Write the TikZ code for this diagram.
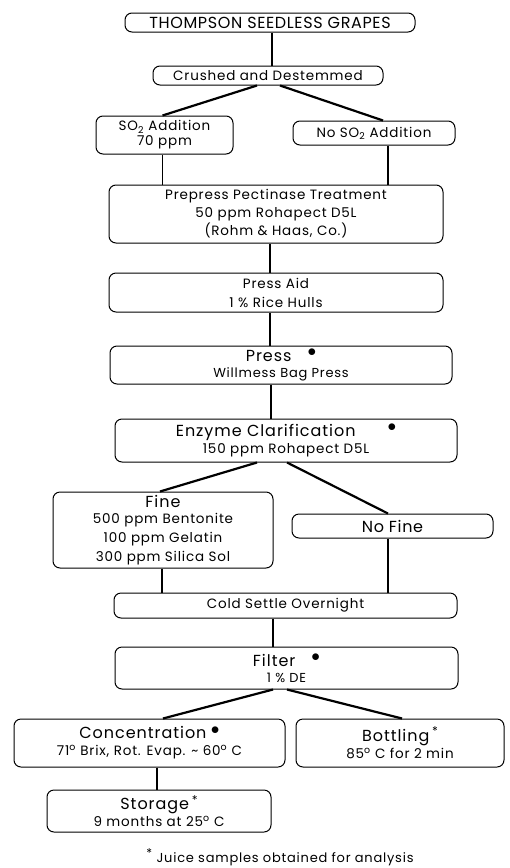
\documentclass[tikz,border=0pt]{standalone}
\usepackage{fontspec}
\setmainfont{Poppins}[LetterSpace=4]
\usetikzlibrary{positioning}
\newcommand{\stagebig}{\fontsize{16}{19}\selectfont}
\newcommand{\stagemid}{\fontsize{13.5}{19}\selectfont\addfontfeatures{LetterSpace=6}}
\newcommand{\stagesmall}{\fontsize{13}{16}\selectfont\addfontfeatures{LetterSpace=6}}
\newcommand{\dotmark}{\raisebox{0.3em}{$\bullet$}}
\newcommand{\starmark}{\raisebox{0.35em}{\fontsize{12}{12}\selectfont *}}
\newcommand{\degmark}{\textsuperscript{o}}

\begin{document}
\begin{tikzpicture}[x=1pt, y=-1pt,
  stagebox/.style={draw, rounded corners=7pt, line width=1pt, align=center, inner sep=0pt, font=\stagemid},
  link/.style={line width=2.2pt},
  vlink/.style={line width=1.5pt}]
\useasboundingbox (0,0) rectangle (510,868);

% Stages
\node[stagebox, minimum width=290, minimum height=19, font=\fontsize{16}{19}\selectfont] (grapes) at (270,22.5) {THOMPSON SEEDLESS GRAPES};
\node[stagebox, minimum width=230, minimum height=19] (crush) at (268,75.5) {Crushed and Destemmed};
\node[stagebox, minimum width=137, minimum height=38] (so2) at (164.5,135) {SO\textsubscript{2} Addition\\[-4pt]70 ppm};
\node[stagebox, minimum width=162, minimum height=24] (noso2) at (374,133) {No SO\textsubscript{2} Addition};
\node[stagebox, minimum width=334, minimum height=58] (prepress) at (276,214) {Prepress Pectinase Treatment\\[-1pt]50 ppm Rohapect D5L\\[-1pt](Rohm \& Haas, Co.)};
\node[stagebox, minimum width=334, minimum height=39] (aid) at (276,292.5) {Press Aid\\1 \% Rice Hulls};
\node[stagebox, minimum width=342, minimum height=38] (press) at (281,365) {{\stagebig Press\quad\dotmark}\\[-3pt]{\stagesmall Willmess Bag Press\hspace{22pt}}};
\node[stagebox, minimum width=342, minimum height=43] (enzyme) at (286,440.5) {{\stagebig Enzyme Clarification\qquad\dotmark}\\[-2pt]150 ppm Rohapect D5L};
\node[stagebox, minimum width=220, minimum height=76] (fine) at (163,530) {{\stagebig Fine}\\[-3pt]500 ppm Bentonite\\100 ppm Gelatin\\300 ppm Silica Sol};
\node[stagebox, minimum width=201, minimum height=24, font=\stagebig] (nofine) at (392.5,526) {No Fine};
\node[stagebox, minimum width=343, minimum height=25] (settle) at (285.5,605.5) {Cold Settle Overnight};
\node[stagebox, minimum width=343, minimum height=42] (filter) at (286.5,668) {{\stagebig Filter\quad\dotmark}\\[-3pt]{\stagesmall 1 \% DE\hspace{22pt}}};
\node[stagebox, minimum width=271, minimum height=48] (conc) at (149.5,743) {{\stagebig Concentration\;\dotmark}\\[-2pt]71\degmark{} Brix, Rot. Evap. \textasciitilde{} 60\degmark{} C};
\node[stagebox, minimum width=208, minimum height=48] (bottle) at (400,743) {{\stagebig Bottling\,\starmark}\\[-2pt]85\degmark{} C for 2 min};
\node[stagebox, minimum width=224, minimum height=42] (storage) at (159,811) {{\stagebig Storage\,\starmark}\\[-2pt]9 months at 25\degmark{} C};
\node[font=\stagesmall] (note) at (280,857) {\starmark{} Juice samples obtained for analysis};

% Links
\draw[vlink] ([xshift=2]grapes.south) -- ([xshift=2]grapes.south |- crush.north);
\draw[link] ([xshift=-11]crush.south) -- ([xshift=-2]so2.north);
\draw[link] ([xshift=12]crush.south) -- ([xshift=9]noso2.north);
\draw[vlink] ([xshift=-2]so2.south) -- ([xshift=-2]so2.south |- prepress.north);
\draw[vlink] ([xshift=14]noso2.south) -- ([xshift=14]noso2.south |- prepress.north);
\draw[vlink] ([xshift=-6]prepress.south) -- ([xshift=-6]prepress.south |- aid.north);
\draw[vlink] ([xshift=-6]aid.south) -- ([xshift=-6]aid.south |- press.north);
\draw[vlink] ([xshift=-10]press.south) -- ([xshift=-10]press.south |- enzyme.north);
\draw[link] ([xshift=-29]enzyme.south) -- ([xshift=-3]fine.north);
\draw[link] ([xshift=1]enzyme.south) -- ([xshift=-4.5]nofine.north);
\draw[vlink] ([xshift=-1]fine.south) -- ([xshift=-1]fine.south |- settle.north);
\draw[vlink] ([xshift=-4.5]nofine.south) -- ([xshift=-4.5]nofine.south |- settle.north);
\draw[vlink] ([xshift=-12.5]settle.south) -- ([xshift=-12.5]settle.south |- filter.north);
\draw[link] ([xshift=-13.5]filter.south) -- ([xshift=13.5]conc.north);
\draw[link] ([xshift=0.5]filter.south) -- ([xshift=2]bottle.north);
\draw[vlink] ([xshift=7.5]conc.south) -- ([xshift=7.5]conc.south |- storage.north);
\end{tikzpicture}
\end{document}
